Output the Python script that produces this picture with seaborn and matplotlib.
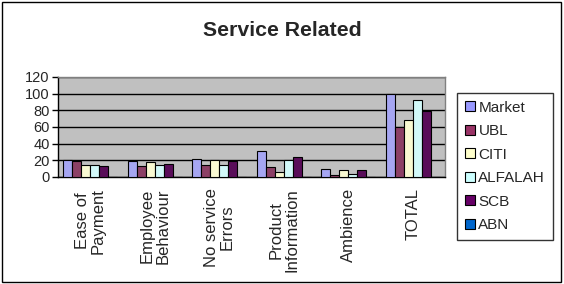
import matplotlib
matplotlib.use("Agg")
import matplotlib.pyplot as plt
import seaborn as sns
import pandas as pd
import numpy as np
from matplotlib.patches import Rectangle, Patch

categories = ["Ease of\nPayment", "Employee\nBehaviour", "No service\nErrors",
              "Product\nInformation", "Ambience", "TOTAL"]
banks = ["Market", "UBL", "CITI", "ALFALAH", "SCB", "ABN"]
market = [20, 19, 22, 31, 10, 100]
ubl = [19, 13, 15, 12, 3, 60]
citi = [15, 18, 21, 6, 9, 68]
alfalah = [15, 14, 14, 20, 4, 93]
scb = [13, 16, 19, 24, 9, 79]
abn = [0, 0, 0, 0, 0, 0]
colors = ["#9999FF", "#993366", "#FFFFCC", "#CCFFFF", "#660066", "#0066CC"]

series = [market, ubl, citi, alfalah, scb, abn]
rows = []
for b, vals in zip(banks, series):
    for c, v in zip(categories, vals):
        rows.append({"cat": c, "bank": b, "val": v})
df = pd.DataFrame(rows)

sns.set_style("white")
plt.rcParams["font.family"] = ["Liberation Sans", "DejaVu Sans"]

fig = plt.figure(figsize=(5.64, 2.84), dpi=100)
ax = fig.add_axes([58/564, 1-177/284, (445-58)/564, 100/284])
ax.set_facecolor("#C0C0C0")

sns.barplot(data=df, x="cat", y="val", hue="bank", palette=colors,
            edgecolor="black", linewidth=0.8, width=0.83, ax=ax,
            legend=False, zorder=3)

ax.set_ylim(0, 120)
ax.set_yticks(np.arange(0, 121, 20))
ax.yaxis.grid(True, color="black", linewidth=1, zorder=1)
ax.set_axisbelow(True)
ax.set_xlim(-0.5, len(categories) - 0.5)
ax.set_xlabel("")
ax.set_ylabel("")
ax.set_xticks(range(len(categories)))
ax.set_xticklabels(categories, rotation=90, fontsize=12, linespacing=1.1,
                   va="top", ha="center")
ax.tick_params(axis="x", which="major", length=0, pad=8)
ax.set_xticks(np.arange(-0.5, len(categories), 1), minor=True)
ax.tick_params(axis="x", which="minor", length=4, width=1, color="black", direction="out")
ax.tick_params(axis="y", length=4, width=1, color="black", direction="out",
               labelsize=10.5, pad=2, left=True)
for s in ["left", "bottom"]:
    ax.spines[s].set_color("black")
    ax.spines[s].set_linewidth(1)
for s in ["top", "right"]:
    ax.spines[s].set_color("#808080")
    ax.spines[s].set_linewidth(1)

fig.text(282/564, 1-30/284, "Service Related", ha="center", va="center",
         fontsize=15.3, fontweight="bold")

handles = [Patch(facecolor=c, edgecolor="black", linewidth=0.8, label=b)
           for b, c in zip(banks, colors)]
leg = fig.legend(handles=handles, loc="upper left",
                 bbox_to_anchor=(457/564, 1-93/284), fontsize=11,
                 frameon=True, fancybox=False, edgecolor="black",
                 handlelength=0.65, handleheight=0.65, handletextpad=0.25,
                 labelspacing=0.62, borderpad=0.5, borderaxespad=0)
leg.get_frame().set_linewidth(1)

fig.patches.append(Rectangle((2/564, 2/284), 559/564, 280/284, transform=fig.transFigure,
                             fill=False, edgecolor="black", linewidth=1))

fig.savefig("out.png", dpi=100)
